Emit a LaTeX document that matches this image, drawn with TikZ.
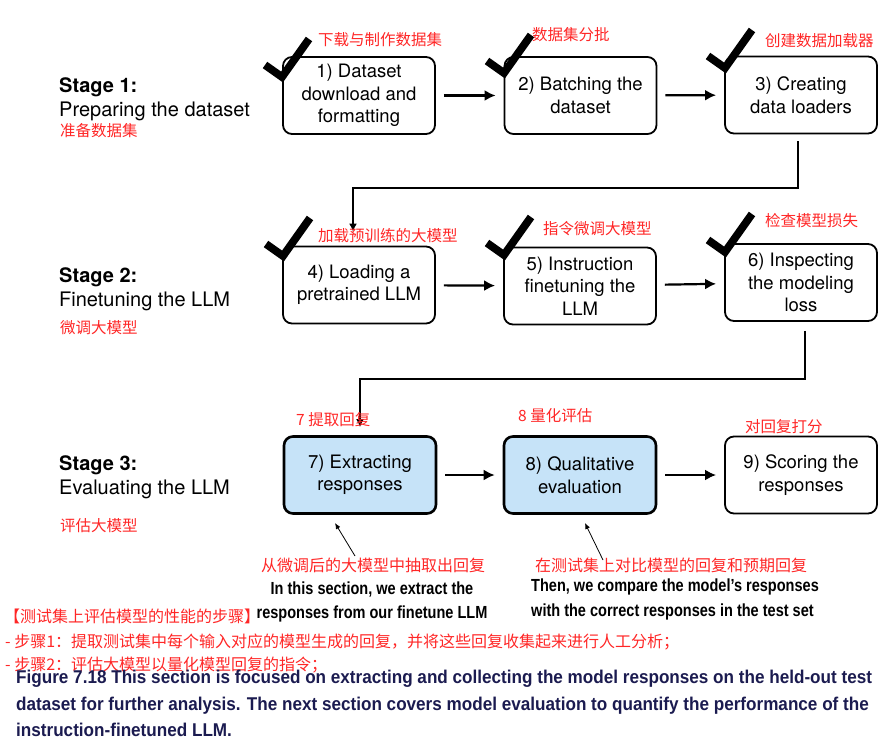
\documentclass[tikz,border=0pt]{standalone}
\usepackage{fontspec}
\setmainfont{TeX Gyre Heros}
\newfontfamily\cjk{Noto Sans CJK SC}
\newfontfamily\capfont[FakeStretch=0.925]{Liberation Sans}
\newfontfamily\annfont[FakeStretch=0.83]{Liberation Sans}
\usetikzlibrary{arrows.meta}
\definecolor{redtxt}{HTML}{FF2626}
\definecolor{navy}{HTML}{1B1B50}
\definecolor{boxblue}{HTML}{C6E3F8}
\tikzset{
  stepbox/.style={draw=black, rounded corners=9pt, line width=1.8pt, minimum width=152pt, minimum height=77pt,
    align=center, font=\fontsize{18.5}{22.5}\selectfont, inner sep=0pt},
  bluebox/.style={stepbox, fill=boxblue, line width=2.6pt},
  arr/.style={line width=2.2pt, -{Latex[length=11pt,width=11pt]}, shorten <=8pt, shorten >=8pt},
  conn/.style={line width=2pt, -{Latex[length=8pt,width=8pt]}},
  ptr/.style={line width=0.8pt, -{Latex[length=6pt,width=5pt]}},
  tick/.style={line width=7.8pt, line join=miter, draw=black},
  redlab/.style={text=redtxt, font=\cjk\fontsize{15.5}{18}\selectfont, inner sep=0pt, anchor=west},
  stagehead/.style={font=\bfseries\fontsize{20}{24}\selectfont, inner sep=0pt, anchor=base west},
  stagetxt/.style={font=\fontsize{20}{24}\selectfont, inner sep=0pt, anchor=base west},
  ann/.style={font=\annfont\bfseries\fontsize{17.5}{20}\selectfont, inner sep=0pt},
  caption/.style={text=navy, font=\capfont\bfseries\fontsize{18.5}{21}\selectfont, inner sep=0pt, anchor=base west},
  redlist/.style={text=redtxt, font=\cjk\fontsize{16}{19}\selectfont, inner sep=0pt, anchor=west},
}
\newcommand\drawtick[3]{\draw[tick] ({#2-17},{#3-12}) -- (#2,#3) -- ({#2+27},{#3-38});}
\begin{document}
\begin{tikzpicture}[x=1pt,y=-1pt]
\useasboundingbox (0,0) rectangle (888,743);
% stage labels
\node[stagehead] (s1h) at (59,93) {Stage 1:};
\node[stagetxt] (s1t) at (59,117) {Preparing the dataset};
\node[redlab] (s1c) at (60,131) {准备数据集};
\node[stagehead] (s2h) at (59,282) {Stage 2:};
\node[stagetxt] (s2t) at (59,306) {Finetuning the LLM};
\node[redlab] (s2c) at (60,328) {微调大模型};
\node[stagehead] (s3h) at (59,470) {Stage 3:};
\node[stagetxt] (s3t) at (59,494) {Evaluating the LLM};
\node[redlab] (s3c) at (60,526) {评估大模型};
% boxes
\node[stepbox] (b1) at (359,95.5) {1) Dataset\\download and\\formatting};
\node[stepbox] (b2) at (580.5,95.5) {2) Batching the\\dataset};
\node[stepbox] (b3) at (801,95) {3) Creating\\data loaders};
\node[stepbox] (b4) at (359,285) {4) Loading a\\pretrained LLM};
\node[stepbox] (b5) at (580,286) {5) Instruction\\finetuning the\\LLM};
\node[stepbox] (b6) at (801,282.5) {6) Inspecting\\the modeling\\loss};
\node[bluebox] (b7) at (360,475) {7) Extracting\\responses};
\node[bluebox] (b8) at (580,475) {8) Qualitative\\evaluation};
\node[stepbox] (b9) at (801,475) {9) Scoring the\\responses};
% ticks
\drawtick{t1}{282}{77}
\drawtick{t2}{504}{73}
\drawtick{t3}{725}{68}
\drawtick{t4}{283}{256}
\drawtick{t5}{504}{255}
\drawtick{t6}{725}{252}
% arrows
\draw[arr] (b1) -- (b2);
\draw[arr] (b2) -- (b3);
\draw[arr] (b4) -- (b5);
\draw[arr] (b5) -- (b6);
\draw[arr] (b7) -- (b8);
\draw[arr] (b8) -- (b9);
\draw[conn] ([xshift=-3pt,yshift=-7pt]b3.south) -- ++(0,47) -| ([xshift=-6pt,yshift=14pt]b4.north);
\draw[conn] ([xshift=4pt,yshift=-9pt]b6.south) -- ++(0,48) -| ([yshift=8pt]b7.north);
% red labels
\node[redlab] (l1) at (318,40) {下载与制作数据集};
\node[redlab] (l2) at (532,35) {数据集分批};
\node[redlab] (l3) at (765,41) {创建数据加载器};
\node[redlab] (l4) at (318,236) {加载预训练的大模型};
\node[redlab] (l5) at (543,229) {指令微调大模型};
\node[redlab] (l6) at (765,221) {检查模型损失};
\node[redlab] (l7) at (296,420) {7 提取回复};
\node[redlab] (l8) at (518,416) {8 量化评估};
\node[redlab] (l9) at (745,427) {对回复打分};
% pointers
\coordinate (p1a) at (355,556);
\coordinate (p1b) at (335,523);
\coordinate (p2a) at (603,560);
\coordinate (p2b) at (585,523);
\draw[ptr] (p1a) -- (p1b);
\draw[ptr] (p2a) -- (p2b);
\node[redlist, anchor=center] (r1) at (373,565) {从微调后的大模型中抽取出回复};
\node[redlist, anchor=center] (r2) at (671,565) {在测试集上对比模型的回复和预期回复};
\node[ann, anchor=base] (a1) at (372,594) {In this section, we extract the};
\node[ann, anchor=base] (a2) at (372,618) {responses from our finetune LLM};
\node[ann, anchor=base west] (a3) at (531,591) {Then, we compare the model’s responses};
\node[ann, anchor=base west] (a4) at (531,616) {with the correct responses in the test set};
% red list
\node[redlist] (g1) at (4,616) {【测试集上评估模型的性能的步骤】};
\node[redlist] (g2) at (5,642) {- 步骤1：提取测试集中每个输入对应的模型生成的回复，并将这些回复收集起来进行人工分析；};
\node[redlist] (g3) at (5,665) {- 步骤2：评估大模型以量化模型回复的指令；};
% caption
\node[caption] (c1) at (16,683) {Figure 7.18 This section is focused on extracting and collecting the model responses on the held-out test};
\node[caption] (c2) at (16,710) {dataset for further analysis. The next section covers model evaluation to quantify the performance of the};
\node[caption] (c3) at (16,736) {instruction-finetuned LLM.};
\end{tikzpicture}
\end{document}
